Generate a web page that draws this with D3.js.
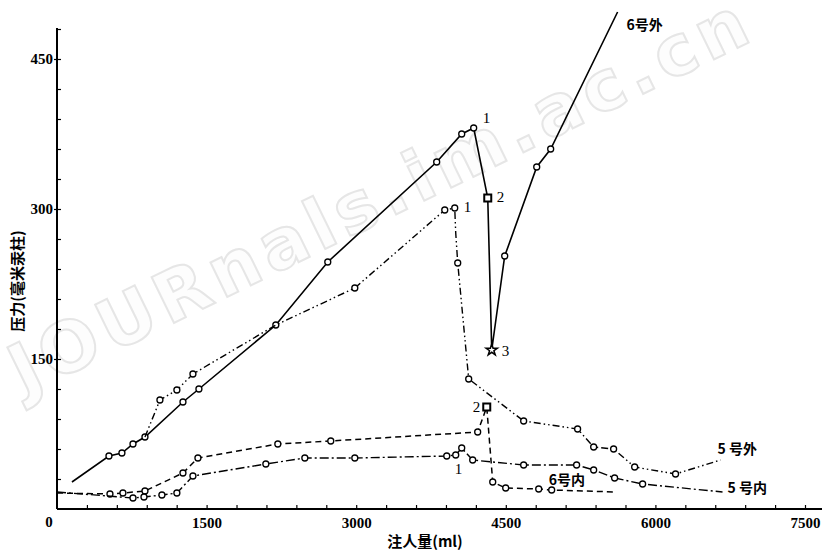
<!DOCTYPE html>
<html>
<head>
<meta charset="utf-8">
<script src="https://cdn.jsdelivr.net/npm/d3@7"></script>
<style>
  body { margin: 0; background: #fff; }
  #display { width: 822px; height: 550px; }
</style>
</head>
<body>
<div id="display"></div>
<script>
// data: [injected volume ml, pressure mmHg]
const out6 = [[150, 27], [521, 53], [651, 56], [762, 65], [882, 72], [1263, 107], [1423, 120],
    [2194, 184], [2715, 247], [3807, 347], [4058, 375], [4178, 381], [4319, 311], [4359, 159],
    [4489, 253], [4810, 342], [4950, 360], [5621, 497]];
const out5 = [[882, 72], [1032, 109], [1202, 119], [1363, 135], [2194, 184], [2986, 221],
    [3888, 299], [3988, 301], [3998, 276], [4018, 246], [4128, 130], [4679, 88], [5220, 80],
    [5381, 62], [5581, 60], [5792, 42], [6202, 35], [6653, 49]];
const in6 = [[0, 16], [531, 15], [661, 16], [882, 18], [1263, 36], [1413, 51], [2214, 65],
    [2745, 68], [4218, 77], [4309, 102], [4369, 27], [4499, 21], [4830, 20], [4960, 19], [5611, 17]];
const in5 = [[0, 17], [762, 11], [872, 12], [1052, 14], [1202, 16], [1363, 33], [2094, 45],
    [2485, 51], [2986, 51], [3908, 53], [3998, 54], [4058, 61], [4168, 49], [4679, 44],
    [5210, 44], [5381, 39], [5591, 31], [5872, 25], [6673, 17]];

const xTickLabels = [1500, 3000, 4500, 6000, 7500];
const yTickLabels = [150, 300, 450];

const svg = d3.select('#display')
    .append('svg')
    .attr('width', 822)
    .attr('height', 550);

const x = d3.scaleLinear().domain([0, 7500]).range([57, 805]);
const y = d3.scaleLinear().domain([0, 450]).range([509, 59]);

const numFont = '"Liberation Serif", "DejaVu Serif", serif';
const cjkFont = '"Noto Sans CJK SC", sans-serif';

// faint watermark
svg.append('text')
    .attr('transform', 'translate(24,396) rotate(-26)')
    .attr('font-family', '"DejaVu Sans", sans-serif')
    .attr('font-weight', 'bold')
    .attr('font-size', 70)
    .attr('letter-spacing', 6)
    .attr('fill', '#fdfdfd')
    .attr('stroke', '#e6e6e6')
    .attr('stroke-width', 2)
    .text('JOURnals.im.ac.cn');

// axes
const yAxis = svg.append('g')
    .attr('transform', `translate(${x(0)},0)`)
    .call(d3.axisLeft(y)
        .tickValues(d3.range(30, 481, 30))
        .tickSizeInner(-4)
        .tickSizeOuter(0)
        .tickFormat(d => yTickLabels.includes(d) ? d : ''));
yAxis.select('.domain').remove();
yAxis.selectAll('text')
    .attr('x', -4)
    .attr('font-family', numFont)
    .attr('font-weight', 'bold')
    .attr('font-size', 15)
    .attr('fill', '#000');
yAxis.selectAll('line').attr('stroke', '#000').attr('stroke-width', 1.2);
yAxis.selectAll('.tick')
    .filter(d => yTickLabels.includes(d))
    .append('line')
    .attr('x1', -3).attr('x2', 0)
    .attr('stroke', '#000').attr('stroke-width', 1.2);

const xAxis = svg.append('g')
    .attr('transform', `translate(0,${y(0)})`)
    .call(d3.axisBottom(x)
        .tickValues(d3.range(300, 7501, 300))
        .tickSizeInner(-4)
        .tickSizeOuter(0)
        .tickFormat(d => xTickLabels.includes(d) ? d : ''));
xAxis.select('.domain').remove();
xAxis.selectAll('text')
    .attr('y', 8)
    .attr('font-family', numFont)
    .attr('font-weight', 'bold')
    .attr('font-size', 15)
    .attr('fill', '#000');
xAxis.selectAll('line').attr('stroke', '#000').attr('stroke-width', 1.2);

svg.append('line')
    .attr('x1', x(0)).attr('x2', x(0))
    .attr('y1', y(0)).attr('y2', y(481))
    .attr('stroke', '#000').attr('stroke-width', 2);
svg.append('line')
    .attr('x1', x(0)).attr('x2', 822)
    .attr('y1', y(0)).attr('y2', y(0))
    .attr('stroke', '#000').attr('stroke-width', 2);

svg.append('text')
    .attr('x', x(0) - 8).attr('y', y(0) + 18)
    .attr('text-anchor', 'middle')
    .attr('font-family', numFont)
    .attr('font-weight', 'bold')
    .attr('font-size', 15)
    .text('0');

svg.append('text')
    .attr('x', 425).attr('y', 547)
    .attr('text-anchor', 'middle')
    .attr('font-family', cjkFont)
    .attr('font-weight', 'bold')
    .attr('font-size', 15)
    .text('注人量(ml)');

svg.append('text')
    .attr('transform', 'translate(23,281) rotate(-90)')
    .attr('text-anchor', 'middle')
    .attr('font-family', cjkFont)
    .attr('font-weight', 'bold')
    .attr('font-size', 15)
    .text('压力(毫米汞柱)');

// series
const line = d3.line().x(d => x(d[0])).y(d => y(d[1]));

function drawSeries(data, dash, width, markerIdx) {
    svg.append('path')
        .datum(data)
        .attr('d', line)
        .attr('fill', 'none')
        .attr('stroke', '#000')
        .attr('stroke-width', width)
        .attr('stroke-dasharray', dash);
    svg.append('g')
        .selectAll('circle')
        .data(markerIdx.map(i => data[i]))
        .join('circle')
        .attr('cx', d => x(d[0]))
        .attr('cy', d => y(d[1]))
        .attr('r', 3)
        .attr('fill', '#fff')
        .attr('stroke', '#000')
        .attr('stroke-width', 1.3);
}

drawSeries(out6, null, 1.6, [1, 2, 3, 4, 5, 6, 7, 8, 9, 10, 11, 14, 15, 16]);
drawSeries(out5, '7,3,1.5,3,1.5,3', 1.4, [1, 2, 3, 5, 6, 7, 9, 10, 11, 12, 13, 14, 15, 16]);
drawSeries(in6, '6,4', 1.5, [1, 2, 3, 4, 5, 6, 7, 8, 10, 11, 12, 13]);
drawSeries(in5, '9,3,2,3', 1.4, [1, 2, 3, 4, 5, 6, 7, 8, 9, 10, 11, 12, 13, 14, 15, 16, 17]);

// special markers: squares at point 2, star at point 3
const squares = [out6[12], in6[9]];
svg.append('g')
    .selectAll('rect')
    .data(squares)
    .join('rect')
    .attr('x', d => x(d[0]) - 3.5)
    .attr('y', d => y(d[1]) - 3.5)
    .attr('width', 7)
    .attr('height', 7)
    .attr('fill', '#fff')
    .attr('stroke', '#000')
    .attr('stroke-width', 2);
svg.append('path')
    .attr('transform', `translate(${x(out6[13][0])},${y(out6[13][1])})`)
    .attr('d', d3.symbol(d3.symbolStar, 40)())
    .attr('fill', '#fff')
    .attr('stroke', '#000')
    .attr('stroke-width', 1.5);

// point numbers
const marks = [
    [out6[11], '1', 9, -5], [out6[12], '2', 9, 4], [out6[13], '3', 10, 6],
    [out5[7], '1', 9, 4], [in6[9], '2', -14, 5], [in5[11], '1', -7, 26]
];
svg.append('g')
    .selectAll('text')
    .data(marks)
    .join('text')
    .attr('x', d => x(d[0][0]) + d[2])
    .attr('y', d => y(d[0][1]) + d[3])
    .attr('font-family', numFont)
    .attr('font-size', 15)
    .attr('fill', '#000')
    .text(d => d[1]);

// series names
const names = [
    [out6[17], '6号外', 9, 18], [out5[17], '5 号外', -3, -6],
    [in6[13], '6号内', -3, -5], [in5[18], '5 号内', 5, 1]
];
svg.append('g')
    .selectAll('text')
    .data(names)
    .join('text')
    .attr('x', d => x(d[0][0]) + d[2])
    .attr('y', d => y(d[0][1]) + d[3])
    .attr('font-family', cjkFont)
    .attr('font-weight', 'bold')
    .attr('font-size', 14)
    .text(d => d[1]);
</script>
</body>
</html>
